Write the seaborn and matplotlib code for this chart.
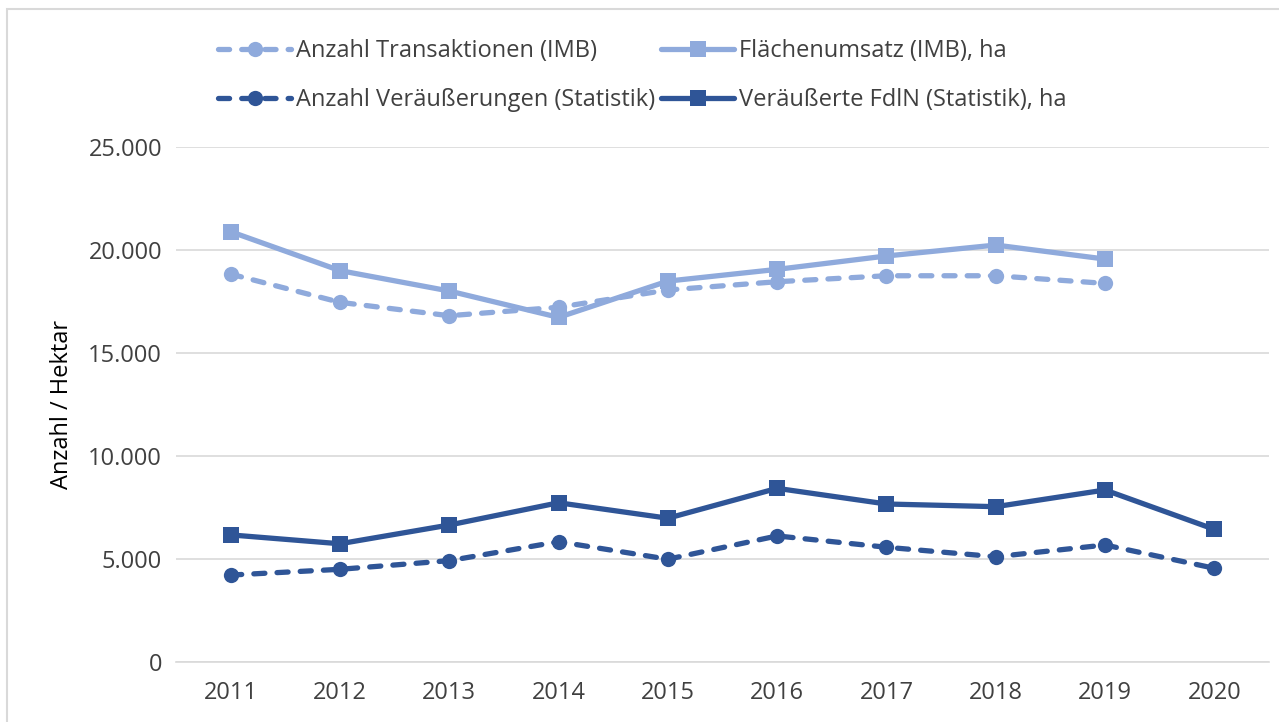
import numpy as np
import pandas as pd
import matplotlib
matplotlib.use('Agg')
import matplotlib.pyplot as plt
import seaborn as sns
from matplotlib.patches import Rectangle

# ==================== Daten ====================
jahre = ['2011', '2012', '2013', '2014', '2015', '2016', '2017', '2018', '2019', '2020']
transaktionen_imb = [18830, 17460, 16810, 17220, 18060, 18460, 18750, 18750, 18380, np.nan]
flaechenumsatz_imb = [20890, 19000, 18010, 16730, 18490, 19060, 19710, 20240, 19560, np.nan]
veraeusserungen_stat = [4220, 4500, 4920, 5840, 4990, 6120, 5570, 5110, 5680, 4550]
fdln_stat = [6170, 5740, 6650, 7730, 6980, 8430, 7670, 7540, 8350, 6440]

hell = '#8FAADC'
dunkel = '#2F5597'
grau = '#D9D9D9'

sns.set_theme(style='white')
plt.rcParams['font.family'] = ['Open Sans', 'DejaVu Sans']
fs = 17

df = pd.DataFrame({
    'Jahr': jahre,
    'trans': transaktionen_imb,
    'flaeche': flaechenumsatz_imb,
    'veraeus': veraeusserungen_stat,
    'fdln': fdln_stat,
})

fig = plt.figure(figsize=(12.79, 7.22), dpi=100)
fig.patches.append(Rectangle((7 / 1279, -0.05), 1.2, 1 - 9 / 722 + 0.05,
                             transform=fig.transFigure, fill=False,
                             edgecolor=grau, linewidth=1.5))
ax = fig.add_axes([176 / 1279, 1 - 662 / 722, (1269 - 176) / 1279, (662 - 147) / 722])

lw = 3.8
dash = (0, (2.1, 2.3))
serien = [
    ('trans', 'Anzahl Transaktionen (IMB)', hell, 'o', dash),
    ('flaeche', 'Flächenumsatz (IMB), ha', hell, 's', '-'),
    ('veraeus', 'Anzahl Veräußerungen (Statistik)', dunkel, 'o', dash),
    ('fdln', 'Veräußerte FdlN (Statistik), ha', dunkel, 's', '-'),
]
for spalte, name, farbe, marker, ls in serien:
    sns.lineplot(data=df, x='Jahr', y=spalte, ax=ax, color=farbe, marker=marker,
                 markersize=11, markeredgewidth=0, linewidth=lw, label=name,
                 linestyle=ls, dash_capstyle='round', sort=False)

ax.set_ylim(0, 25000)
ax.set_xlim(-0.5, len(jahre) - 0.5)
ax.set_yticks(range(0, 25001, 5000))
ax.set_yticklabels(['0' if v == 0 else f'{v:,}'.replace(',', '.') for v in range(0, 25001, 5000)])
ax.yaxis.grid(True, color=grau, linewidth=1.2)
ax.set_axisbelow(True)
for s in ['top', 'right', 'left']:
    ax.spines[s].set_visible(False)
ax.spines['bottom'].set_color(grau)
ax.spines['bottom'].set_linewidth(1.2)
ax.tick_params(axis='both', length=0, labelsize=fs, colors='#404040')
ax.tick_params(axis='y', pad=10)
ax.tick_params(axis='x', pad=14)
ax.set_xlabel('')
ax.set_ylabel('Anzahl / Hektar', fontsize=fs, color='black', labelpad=10)

handles, labels = ax.get_legend_handles_labels()
ax.get_legend().remove()
# Reihenfolge fuer zeilenweise Anordnung (ncol=2 fuellt spaltenweise)
order = [0, 2, 1, 3]
fig.legend([handles[i] for i in order], [labels[i] for i in order], ncol=2,
           loc='upper left', bbox_to_anchor=(197 / 1279, 1 - 18 / 722),
           frameon=False, fontsize=fs, handlelength=3.1, handletextpad=0.2,
           columnspacing=0.25, labelspacing=1.05, labelcolor='#404040')

plt.savefig('out.png', dpi=100)
plt.close()
